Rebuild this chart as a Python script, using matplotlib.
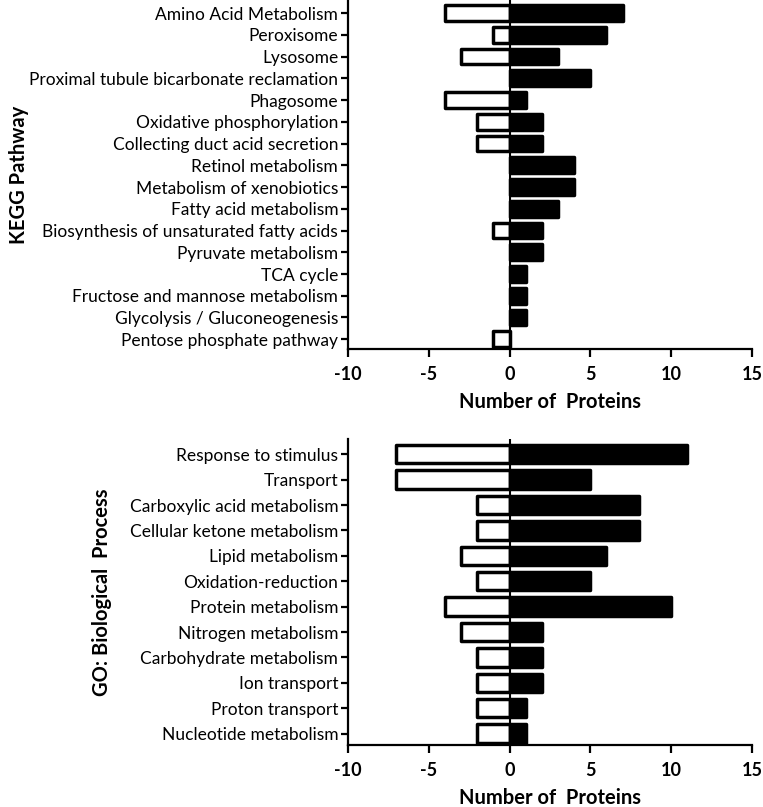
import numpy as np
import matplotlib
matplotlib.use("Agg")
import matplotlib.pyplot as plt

plt.rcParams['font.family'] = ['Lato', 'DejaVu Sans']

kegg_labels = ["Amino Acid Metabolism", "Peroxisome", "Lysosome",
               "Proximal tubule bicarbonate reclamation", "Phagosome",
               "Oxidative phosphorylation", "Collecting duct acid secretion",
               "Retinol metabolism", "Metabolism of xenobiotics",
               "Fatty acid metabolism", "Biosynthesis of unsaturated fatty acids",
               "Pyruvate metabolism", "TCA cycle", "Fructose and mannose metabolism",
               "Glycolysis / Gluconeogenesis", "Pentose phosphate pathway"]
kegg_up = [7, 6, 3, 5, 1, 2, 2, 4, 4, 3, 2, 2, 1, 1, 1, 0]
kegg_down = [4, 1, 3, 0, 4, 2, 2, 0, 0, 0, 1, 0, 0, 0, 0, 1]

go_labels = ["Response to stimulus", "Transport", "Carboxylic acid metabolism",
             "Cellular ketone metabolism", "Lipid metabolism", "Oxidation-reduction",
             "Protein metabolism", "Nitrogen metabolism", "Carbohydrate metabolism",
             "Ion transport", "Proton transport", "Nucleotide metabolism"]
go_up = [11, 5, 8, 8, 6, 5, 10, 2, 2, 2, 1, 1]
go_down = [7, 7, 2, 2, 3, 2, 4, 3, 2, 2, 2, 2]

xticks = [-10, -5, 0, 5, 10, 15]


def panel(ax, labels, up, down, ylabel, ylabel_x):
    up = np.array(up)
    down = np.array(down)
    y = np.arange(len(labels))
    lw_up = np.where(up > 0, 2.5, 0)
    lw_down = np.where(down > 0, 2.5, 0)
    b1 = ax.barh(y, -down, height=0.72, color='white', edgecolor='black', linewidth=lw_down)
    b2 = ax.barh(y, up, height=0.72, color='black', edgecolor='black', linewidth=lw_up)
    for r in list(b1) + list(b2):
        r.set_joinstyle('round')
    ax.axvline(0, color='black', lw=1.5, zorder=3)
    ax.set_xlim(-10, 15)
    ax.set_ylim(len(labels) - 0.55, -0.6)
    ax.set_yticks(y)
    ax.set_yticklabels(labels, fontsize=12.5)
    ax.set_xticks(xticks)
    ax.set_xticklabels([str(t) for t in xticks], fontsize=13, fontweight='bold')
    ax.set_xlabel("Number of  Proteins", fontsize=14.5, fontweight='bold', labelpad=7)
    ax.set_ylabel(ylabel, fontsize=14.5, fontweight='bold')
    ax.yaxis.set_label_coords(ylabel_x, 0.5)
    for s in ['top', 'right']:
        ax.spines[s].set_visible(False)
    for s in ['left', 'bottom']:
        ax.spines[s].set_linewidth(1.6)
    ax.tick_params(axis='y', length=5, width=1.6, pad=2)
    ax.tick_params(axis='x', length=6, width=1.6, pad=6)


fig = plt.figure(figsize=(7.63, 8.07), dpi=100)
ax1 = fig.add_axes([0.456, 0.5675, 0.5295, 0.4325])
ax2 = fig.add_axes([0.456, 0.0768, 0.5295, 0.3792])

panel(ax1, kegg_labels, kegg_up, kegg_down, "KEGG Pathway", -0.79)
panel(ax2, go_labels, go_up, go_down, "GO: Biological  Process", -0.585)

fig.savefig("out.png", dpi=100)
